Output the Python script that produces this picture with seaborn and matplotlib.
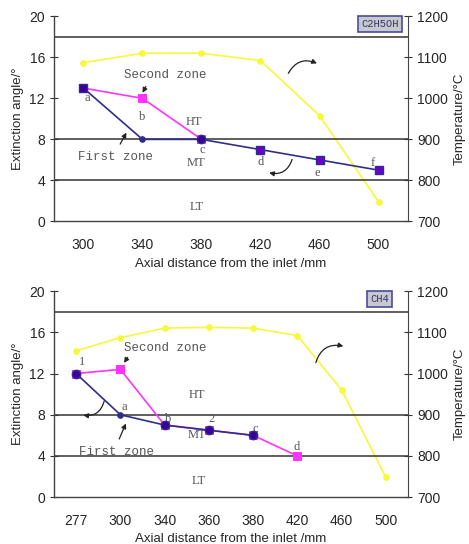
import matplotlib
matplotlib.use("Agg")
import matplotlib.pyplot as plt
import seaborn as sns
import numpy as np
import pandas as pd

sns.set_style("white")
plt.rcParams['font.family'] = ['Liberation Sans', 'DejaVu Sans']

# ---- Data: top panel (C2H5OH)
top_cats = ["300", "340", "380", "420", "460", "500"]
top_temp = [1087, 1110, 1110, 1092, 958, 748]
top_first = [13, 8, 8, 7, 6, 5]
top_second_cats = ["300", "340", "380"]
top_second = [13, 12, 8]
top_letters = ["a", "b", "c", "d", "e", "f"]

# ---- Data: bottom panel (CH4)
bot_cats = ["277", "300", "340", "360", "380", "420", "460", "500"]
bot_temp = [1055, 1087, 1110, 1112, 1110, 1092, 960, 748]
bot_first_cats = ["277", "300", "340", "360", "380"]
bot_first = [12, 8, 7, 6.5, 6]
bot_second_cats = ["277", "300", "340", "360", "380", "420"]
bot_second = [12, 12.4, 7, 6.5, 6, 4]
bot_letters = ["1", "a", "b", "2", "c", "d"]

zone_lines = [18, 8, 4]
NAVY = "#2e2e8a"
MAG = "#ff33ff"
YEL = "#f8f83a"
TXT = "#555555"
MONO = ['Liberation Mono', 'DejaVu Sans Mono']
FS = 9

fig = plt.figure(figsize=(4.69, 5.44), dpi=100)
ax1 = fig.add_axes([0.115, 0.593, 0.755, 0.377])
ax2 = fig.add_axes([0.115, 0.086, 0.755, 0.379])


def setup(ax, cats, label):
    n = len(cats)
    ax.set_xlim(-0.5, n - 0.5)
    ax.set_ylim(0, 20)
    ax.set_yticks([0, 4, 8, 12, 16, 20])
    ax.set_xticks(range(n))
    ax.set_xticklabels(cats)
    ax.set_xticks(np.arange(-0.5, n, 1.0), minor=True)
    ax.tick_params(axis='x', which='major', length=0, labelsize=10, pad=12)
    ax.tick_params(axis='x', which='minor', length=6, direction='inout', color='#333333')
    ax.tick_params(axis='y', length=6, direction='inout', labelsize=10, color='#333333')
    for s in ['top', 'right']:
        ax.spines[s].set_visible(False)
    for s in ['left', 'bottom']:
        ax.spines[s].set_color('#444444')
        ax.spines[s].set_linewidth(1.0)
    for yv in zone_lines:
        ax.axhline(yv, color='#333333', lw=1.1, zorder=1)
    ax.set_ylabel("Extinction angle/°", fontsize=9.5, labelpad=4)
    ax.set_xlabel("Axial distance from the inlet /mm", fontsize=9.5, labelpad=4)
    ax2r = ax.twinx()
    ax2r.set_ylim(700, 1200)
    ax2r.set_yticks([700, 800, 900, 1000, 1100, 1200])
    ax2r.tick_params(axis='y', length=6, direction='inout', labelsize=10, color='#333333')
    for s in ['top', 'left', 'bottom']:
        ax2r.spines[s].set_visible(False)
    ax2r.spines['right'].set_color('#444444')
    ax2r.set_ylabel("Temperature/°C", fontsize=9.5, labelpad=4)
    ax.text(0.92, 0.962, label, transform=ax.transAxes, ha='center', va='center',
            fontsize=7.5, family=MONO, color='#333366',
            bbox=dict(boxstyle='square,pad=0.3', fc='#c8c8d0', ec='#4a4a9a', lw=1.2))
    return ax2r


# ---------- Top panel
r1 = setup(ax1, top_cats, "C2H5OH")
pos = {c: i for i, c in enumerate(top_cats)}
sns.lineplot(x=[pos[c] for c in top_cats], y=top_temp, ax=r1, color=YEL, lw=1.2,
             marker='o', markersize=4, markeredgecolor=YEL, zorder=3)
sns.lineplot(x=[pos[c] for c in top_second_cats], y=top_second, ax=ax1, color=MAG, lw=1.2,
             marker='s', markersize=6, markeredgecolor=MAG, zorder=3)
sns.lineplot(x=[pos[c] for c in top_cats], y=top_first, ax=ax1, color=NAVY, lw=1.2,
             marker='o', markersize=4, markeredgecolor=NAVY, zorder=4)
ax1.plot([3, 4, 5], top_first[3:], ls='none', marker='s', ms=6, mfc='#6a00d0', mec=NAVY, zorder=5)
ax1.plot([0], [top_first[0]], ls='none', marker='s', ms=6, mfc='#3a0099', mec=NAVY, zorder=5)
ax1.plot([2], [top_first[2]], ls='none', marker='o', ms=6, mfc='#3a0099', mec=NAVY, zorder=5)
r1.set_xlim(-0.5, len(top_cats) - 0.5)
ax1.set_zorder(r1.get_zorder() + 1); ax1.patch.set_visible(False)

letter_xy = [(0.07, 12.0), (1.0, 10.2), (2.02, 7.0), (3.0, 5.8), (3.97, 4.75), (4.9, 5.7)]
for t, (x, y) in zip(top_letters, letter_xy):
    ax1.text(x, y, t, ha='center', va='center', fontsize=FS, family='Liberation Serif', color=TXT)
for t, (x, y) in zip(["HT", "MT", "LT"], [(1.87, 9.7), (1.9, 5.7), (1.92, 1.4)]):
    ax1.text(x, y, t, ha='center', va='center', fontsize=FS, family='Liberation Serif', color=TXT)
ax1.text(1.38, 14.3, "Second zone", ha='center', va='center', fontsize=FS, family=MONO, color=TXT)
ax1.text(0.55, 6.3, "First zone", ha='center', va='center', fontsize=FS, family=MONO, color=TXT)
ap = dict(arrowstyle='-|>', color='#222222', lw=0.9, mutation_scale=7)
ax1.annotate("", xy=(0.98, 12.3), xytext=(1.08, 13.4), arrowprops=ap)
ax1.annotate("", xy=(0.75, 8.9), xytext=(0.6, 7.3), arrowprops=ap)
ax1.annotate("", xy=(4.0, 15.3), xytext=(3.45, 14.2),
             arrowprops=dict(ap, connectionstyle='arc3,rad=-0.5'))
ax1.annotate("", xy=(3.1, 4.8), xytext=(3.55, 6.3),
             arrowprops=dict(ap, connectionstyle='arc3,rad=-0.5'))

# ---------- Bottom panel
r2 = setup(ax2, bot_cats, "CH4")
pos = {c: i for i, c in enumerate(bot_cats)}
sns.lineplot(x=[pos[c] for c in bot_cats], y=bot_temp, ax=r2, color=YEL, lw=1.2,
             marker='o', markersize=4, markeredgecolor=YEL, zorder=3)
sns.lineplot(x=[pos[c] for c in bot_second_cats], y=bot_second, ax=ax2, color=MAG, lw=1.2,
             marker='s', markersize=6, markeredgecolor=MAG, zorder=3)
sns.lineplot(x=[pos[c] for c in bot_first_cats], y=bot_first, ax=ax2, color=NAVY, lw=1.2,
             marker='o', markersize=4, markeredgecolor=NAVY, zorder=4)
ax2.plot([0, 2, 3, 4], [bot_first[0]] + bot_first[2:], ls='none', marker='o', ms=6,
         mfc='#3a0099', mec=NAVY, zorder=5)
r2.set_xlim(-0.5, len(bot_cats) - 0.5)
ax2.set_zorder(r2.get_zorder() + 1); ax2.patch.set_visible(False)

letter_xy = [(0.14, 13.1), (1.09, 8.75), (2.09, 7.6), (3.05, 7.6), (4.05, 6.6), (4.98, 4.9)]
for t, (x, y) in zip(bot_letters, letter_xy):
    ax2.text(x, y, t, ha='center', va='center', fontsize=FS, family='Liberation Serif', color=TXT)
for t, (x, y) in zip(["HT", "MT", "LT"], [(2.73, 9.9), (2.73, 6.0), (2.77, 1.6)]):
    ax2.text(x, y, t, ha='center', va='center', fontsize=FS, family='Liberation Serif', color=TXT)
ax2.text(2.02, 14.5, "Second zone", ha='center', va='center', fontsize=FS, family=MONO, color=TXT)
ax2.text(0.91, 4.4, "First zone", ha='center', va='center', fontsize=FS, family=MONO, color=TXT)
ax2.annotate("", xy=(1.05, 12.8), xytext=(1.2, 13.8), arrowprops=ap)
ax2.annotate("", xy=(1.15, 7.4), xytext=(0.95, 5.4), arrowprops=ap)
ax2.annotate("", xy=(6.1, 14.6), xytext=(5.4, 12.8),
             arrowprops=dict(ap, connectionstyle='arc3,rad=-0.5'))
ax2.annotate("", xy=(0.1, 8.0), xytext=(0.65, 9.6),
             arrowprops=dict(ap, connectionstyle='arc3,rad=-0.5'))

fig.savefig("out.png", dpi=100)
